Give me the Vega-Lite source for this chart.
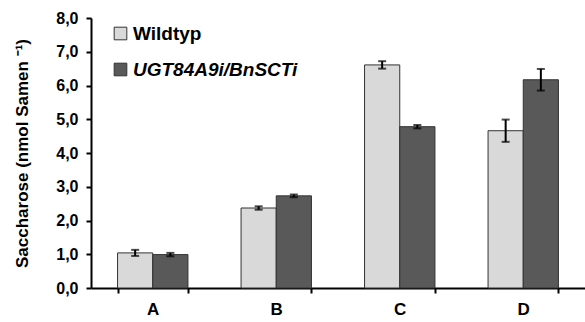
{
  "$schema": "https://vega.github.io/schema/vega-lite/v6.json",
  "width": 494,
  "height": 270,
  "autosize": {"type": "none"},
  "padding": {"left": 91, "top": 18, "right": 0, "bottom": 34},
  "background": "white",
  "config": {
    "view": {"stroke": null},
    "font": "Liberation Sans",
    "axis": {"grid": false, "domainColor": "black", "domainWidth": 2, "tickColor": "black", "tickWidth": 2, "tickSize": 5, "labelColor": "black", "titleColor": "black", "labelFontWeight": "bold", "titleFontWeight": "bold"}
  },
  "data": {
    "values": [
      {"group": "A", "genotype": "Wildtyp", "value": 1.04, "lo": 0.95, "hi": 1.13},
      {"group": "A", "genotype": "UGT84A9i/BnSCTi", "value": 0.99, "lo": 0.94, "hi": 1.04},
      {"group": "B", "genotype": "Wildtyp", "value": 2.37, "lo": 2.32, "hi": 2.42},
      {"group": "B", "genotype": "UGT84A9i/BnSCTi", "value": 2.73, "lo": 2.69, "hi": 2.77},
      {"group": "C", "genotype": "Wildtyp", "value": 6.61, "lo": 6.5, "hi": 6.72},
      {"group": "C", "genotype": "UGT84A9i/BnSCTi", "value": 4.78, "lo": 4.73, "hi": 4.83},
      {"group": "D", "genotype": "Wildtyp", "value": 4.66, "lo": 4.33, "hi": 4.99},
      {"group": "D", "genotype": "UGT84A9i/BnSCTi", "value": 6.17, "lo": 5.85, "hi": 6.49}
    ]
  },
  "encoding": {
    "x": {"field": "group", "type": "nominal", "scale": {"paddingInner": 0.43, "paddingOuter": 0.215},
      "axis": {"title": null, "labelAngle": 0, "labelFontSize": 17, "labelPadding": 8, "tickBand": "extent"}},
    "xOffset": {"field": "genotype", "type": "nominal", "sort": ["Wildtyp", "UGT84A9i/BnSCTi"], "scale": {"paddingInner": 0, "paddingOuter": 0}}
  },
  "layer": [
    {
      "mark": {"type": "bar", "stroke": "#333333", "strokeWidth": 1},
      "encoding": {
        "y": {"field": "value", "type": "quantitative", "scale": {"domain": [0, 8]},
          "axis": {"title": "Saccharose (nmol Samen ⁻¹)", "titleFontSize": 17, "titleX": -69, "titleY": 135, "titleAlign": "center", "titleBaseline": "middle", "titleAngle": -90, "values": [0, 1, 2, 3, 4, 5, 6, 7, 8], "labelOverlap": false, "labelExpr": "replace(format(datum.value, '.1f'), '.', ',')", "labelFontSize": 16, "labelPadding": 8}},
        "fill": {"field": "genotype", "type": "nominal", "sort": ["Wildtyp", "UGT84A9i/BnSCTi"],
          "scale": {"domain": ["Wildtyp", "UGT84A9i/BnSCTi"], "range": ["#d9d9d9", "#595959"]},
          "legend": {"title": null, "orient": "none", "legendX": 20, "legendY": 6, "symbolType": "square", "symbolSize": 160, "symbolStrokeColor": "#333333", "symbolStrokeWidth": 1, "labelFontSize": 19, "labelFontWeight": "bold", "labelColor": "black", "labelLimit": 400, "rowPadding": 16, "labelOffset": 3,
            "encode": {"labels": {"update": {"fontStyle": {"signal": "datum.value === 'Wildtyp' ? 'normal' : 'italic'"}}}}}}
      }
    },
    {
      "mark": {"type": "rule", "color": "black", "strokeWidth": 2},
      "encoding": {"y": {"field": "lo", "type": "quantitative",
          "axis": {"title": "Saccharose (nmol Samen ⁻¹)", "titleFontSize": 17, "titleX": -69, "titleY": 135, "titleAlign": "center", "titleBaseline": "middle", "titleAngle": -90, "values": [0, 1, 2, 3, 4, 5, 6, 7, 8], "labelOverlap": false, "labelExpr": "replace(format(datum.value, '.1f'), '.', ',')", "labelFontSize": 16, "labelPadding": 8}},
        "y2": {"field": "hi"}}
    },
    {
      "mark": {"type": "tick", "color": "black", "thickness": 2, "size": 8},
      "encoding": {"y": {"field": "lo", "type": "quantitative",
          "axis": {"title": "Saccharose (nmol Samen ⁻¹)", "titleFontSize": 17, "titleX": -69, "titleY": 135, "titleAlign": "center", "titleBaseline": "middle", "titleAngle": -90, "values": [0, 1, 2, 3, 4, 5, 6, 7, 8], "labelOverlap": false, "labelExpr": "replace(format(datum.value, '.1f'), '.', ',')", "labelFontSize": 16, "labelPadding": 8}}}
    },
    {
      "mark": {"type": "tick", "color": "black", "thickness": 2, "size": 8},
      "encoding": {"y": {"field": "hi", "type": "quantitative",
          "axis": {"title": "Saccharose (nmol Samen ⁻¹)", "titleFontSize": 17, "titleX": -69, "titleY": 135, "titleAlign": "center", "titleBaseline": "middle", "titleAngle": -90, "values": [0, 1, 2, 3, 4, 5, 6, 7, 8], "labelOverlap": false, "labelExpr": "replace(format(datum.value, '.1f'), '.', ',')", "labelFontSize": 16, "labelPadding": 8}}}
    }
  ]
}
